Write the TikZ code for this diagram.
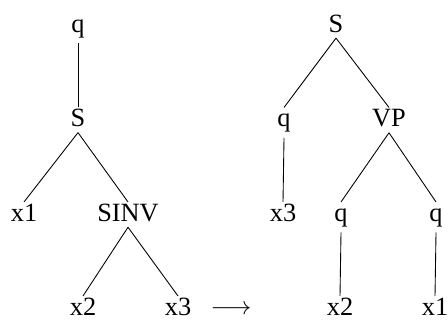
\documentclass[tikz,border=0pt]{standalone}
\usepackage{fontspec}
\setmainfont{Liberation Serif}
\usepackage{tikz}
\usetikzlibrary{positioning}

\begin{document}
\begin{tikzpicture}[
    x=0.02cm, y=-0.02cm,
    tnode/.style={anchor=base, inner sep=0.11cm, text height=0.75em, font=\fontsize{15}{18}\selectfont},
    edge/.style={draw, line width=0.5pt}
  ]
  \useasboundingbox (0,0) rectangle (448,321);

  % Left tree
  \node[tnode] (qL) at (78,32) {q};
  \node[tnode] (SL) at (78,126.5) {S};
  \node[tnode] (x1L) at (24,221) {x1};
  \node[tnode] (sinv) at (128,221) {SINV};
  \node[tnode] (x2L) at (83,315) {x2};
  \node[tnode] (x3L) at (178,315) {x3};

  % Arrow between the trees
  \node[tnode] (arr) at (231,314) {$\longrightarrow$};

  % Right tree
  \node[tnode] (SR) at (336,32) {S};
  \node[tnode] (qR) at (284,126.5) {q};
  \node[tnode] (vp) at (389,126.5) {VP};
  \node[tnode] (x3R) at (283,221) {x3};
  \node[tnode] (qa) at (341,221) {q};
  \node[tnode] (qb) at (436,221) {q};
  \node[tnode] (x2R) at (340,315) {x2};
  \node[tnode] (x1R) at (435,315) {x1};

  % Edges
  \draw[edge] (qL.south) -- (SL.north);
  \draw[edge] (SL.south) -- (x1L.north);
  \draw[edge] (SL.south) -- (sinv.north);
  \draw[edge] (sinv.south) -- (x2L.north);
  \draw[edge] (sinv.south) -- (x3L.north);

  \draw[edge] (SR.south) -- (qR.north);
  \draw[edge] (SR.south) -- (vp.north);
  \draw[edge] (qR.south) -- (x3R.north);
  \draw[edge] (vp.south) -- (qa.north);
  \draw[edge] (vp.south) -- (qb.north);
  \draw[edge] (qa.south) -- (x2R.north);
  \draw[edge] (qb.south) -- (x1R.north);
\end{tikzpicture}
\end{document}
